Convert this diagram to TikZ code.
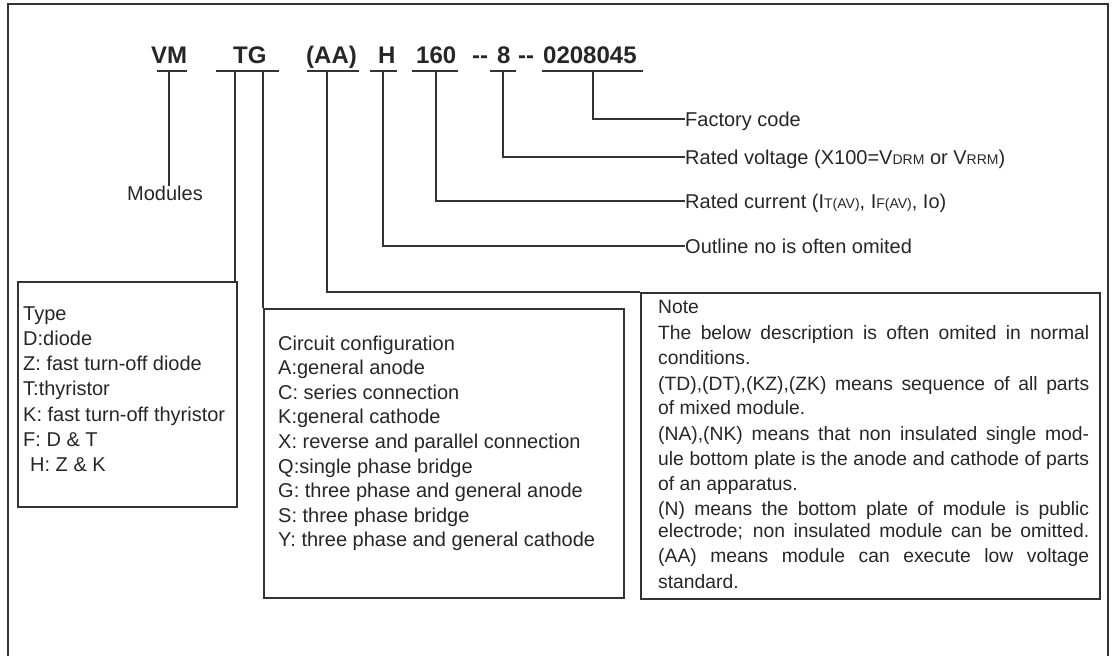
\documentclass[tikz,border=0pt]{standalone}
\usepackage{fontspec}
\setmainfont{Liberation Sans}
\newcommand{\sm}[1]{{\fontsize{14}{14}\selectfont #1}}
\newlength{\notew}
\setlength{\notew}{431pt}
\newcommand{\fullline}[1]{\makebox[\notew][s]{#1}}

\begin{document}
\begin{tikzpicture}[x=1pt, y=-1pt,
  wire/.style={draw=black!80, line width=1.6pt},
  partno/.style={font=\fontsize{24}{24}\selectfont\bfseries, text=black!85, inner sep=0pt, anchor=base west},
  desc/.style={font=\fontsize{20}{25}\selectfont, text=black!85, inner sep=0pt, anchor=west, text height=14.3pt, text depth=0pt},
  item/.style={font=\fontsize{20}{25}\selectfont, text=black!85, inner sep=0pt, anchor=base west},
  noteitem/.style={item, font=\fontsize{19.3}{25}\selectfont},
  box/.style={wire, anchor=north west, inner sep=0pt}]
  \useasboundingbox (0,0) rectangle (1112,656);

  % outer frame
  \draw[wire] (8,660) -- (8,4) -- (1108,4) -- (1108,660);

  % part number
  \node[partno] (vm) at (151,63) {VM};
  \node[partno] (tg) at (233,63) {TG};
  \node[partno] (aa) at (306,63) {(AA)};
  \node[partno] (h) at (378,63) {H};
  \node[partno] (amp) at (416,63) {160};
  \node[partno] (dashA) at (472,63) {{-}{-}};
  \node[partno] (volt) at (497,63) {8};
  \node[partno] (dashB) at (518,63) {{-}{-}};
  \node[partno] (code) at (543,63) {0208045};

  % underlines
  \draw[wire] (157,71) -- (187,71);
  \draw[wire] (216,71) -- (279,71);
  \draw[wire] (307,71) -- (359,71);
  \draw[wire] (370,71) -- (397,71);
  \draw[wire] (412,71) -- (458,71);
  \draw[wire] (490,71) -- (516,71);
  \draw[wire] (542,71) -- (643,71);

  \coordinate (cvm) at (169,71);
  \coordinate (ct) at (235,71);
  \coordinate (cg) at (263,71);
  \coordinate (caa) at (327,71);
  \coordinate (ch) at (383,71);
  \coordinate (camp) at (436,71);
  \coordinate (cvolt) at (503,71);
  \coordinate (ccode) at (593,71);

  % descriptions on the right
  \node[desc] (factory) at (685,119) {Factory code};
  \node[desc] (voltage) at (685,157) {Rated voltage (X100=V\sm{DRM} or V\sm{RRM})};
  \node[desc] (current) at (685,201) {Rated current (I\sm{T(AV)}, I\sm{F(AV)}, Io)};
  \node[desc] (outline) at (685,246) {Outline no is often omited};
  \node[desc, anchor=north] (modules) at (165,186) {Modules};

  % boxes
  \node[box, minimum width=219pt, minimum height=225pt] (typebox) at (17,281) {};
  \node[box, minimum width=360pt, minimum height=289pt] (cfgbox) at (263,308) {};
  \node[box, minimum width=459pt, minimum height=306pt] (notebox) at (640,292) {};

  % connectors
  \draw[wire] (cvm) -- (cvm |- modules.north);
  \draw[wire] (ct) -- (ct |- typebox.north);
  \draw[wire] (cg) -- (cg |- cfgbox.north);
  \draw[wire] (caa) |- (notebox.north west);
  \draw[wire] (ch) |- (outline.west);
  \draw[wire] (camp) |- (current.west);
  \draw[wire] (cvolt) |- (voltage.west);
  \draw[wire] (ccode) |- (factory.west);

  % type
  \node[item] (type1) at (23,320) {Type};
  \node[item] (type2) at (23,345.3) {D:diode};
  \node[item] (type3) at (23,370.6) {Z: fast turn-off diode};
  \node[item] (type4) at (23,395.9) {T:thyristor};
  \node[item] (type5) at (23,421.2) {K: fast turn-off thyristor};
  \node[item] (type6) at (23,446.5) {F: D \& T};
  \node[item] (type7) at (30,471.8) {H: Z \& K};

  % circuit configuration
  \node[item] (cfg1) at (278,350) {Circuit configuration};
  \node[item] (cfg2) at (278,374.6) {A:general anode};
  \node[item] (cfg3) at (278,399.2) {C: series connection};
  \node[item] (cfg4) at (278,423.8) {K:general cathode};
  \node[item] (cfg5) at (278,448.4) {X: reverse and parallel connection};
  \node[item] (cfg6) at (278,473) {Q:single phase bridge};
  \node[item] (cfg7) at (278,497.6) {G: three phase and general anode};
  \node[item] (cfg8) at (278,522.2) {S: three phase bridge};
  \node[item] (cfg9) at (278,546.8) {Y: three phase and general cathode};

  % note
  \node[noteitem] (note1) at (658,313) {Note};
  \node[noteitem] (note2) at (658,339) {\fullline{The below description is often omited in normal}};
  \node[noteitem] (note3) at (658,364) {conditions.};
  \node[noteitem] (note4) at (658,390) {\fullline{(TD),(DT),(KZ),(ZK) means sequence of all parts}};
  \node[noteitem] (note5) at (658,414) {of mixed module.};
  \node[noteitem] (note6) at (658,440) {\fullline{(NA),(NK) means that non insulated single mod-}};
  \node[noteitem] (note7) at (658,465) {\fullline{ule bottom plate is the anode and cathode of parts}};
  \node[noteitem] (note8) at (658,490) {of an apparatus.};
  \node[noteitem] (note9) at (658,515) {\fullline{(N) means the bottom plate of module is public}};
  \node[noteitem] (note10) at (658,537) {\fullline{electrode; non insulated module can be omitted.}};
  \node[noteitem] (note11) at (658,562) {\fullline{(AA) means module can execute low voltage}};
  \node[noteitem] (note12) at (658,588) {standard.};
\end{tikzpicture}
\end{document}
